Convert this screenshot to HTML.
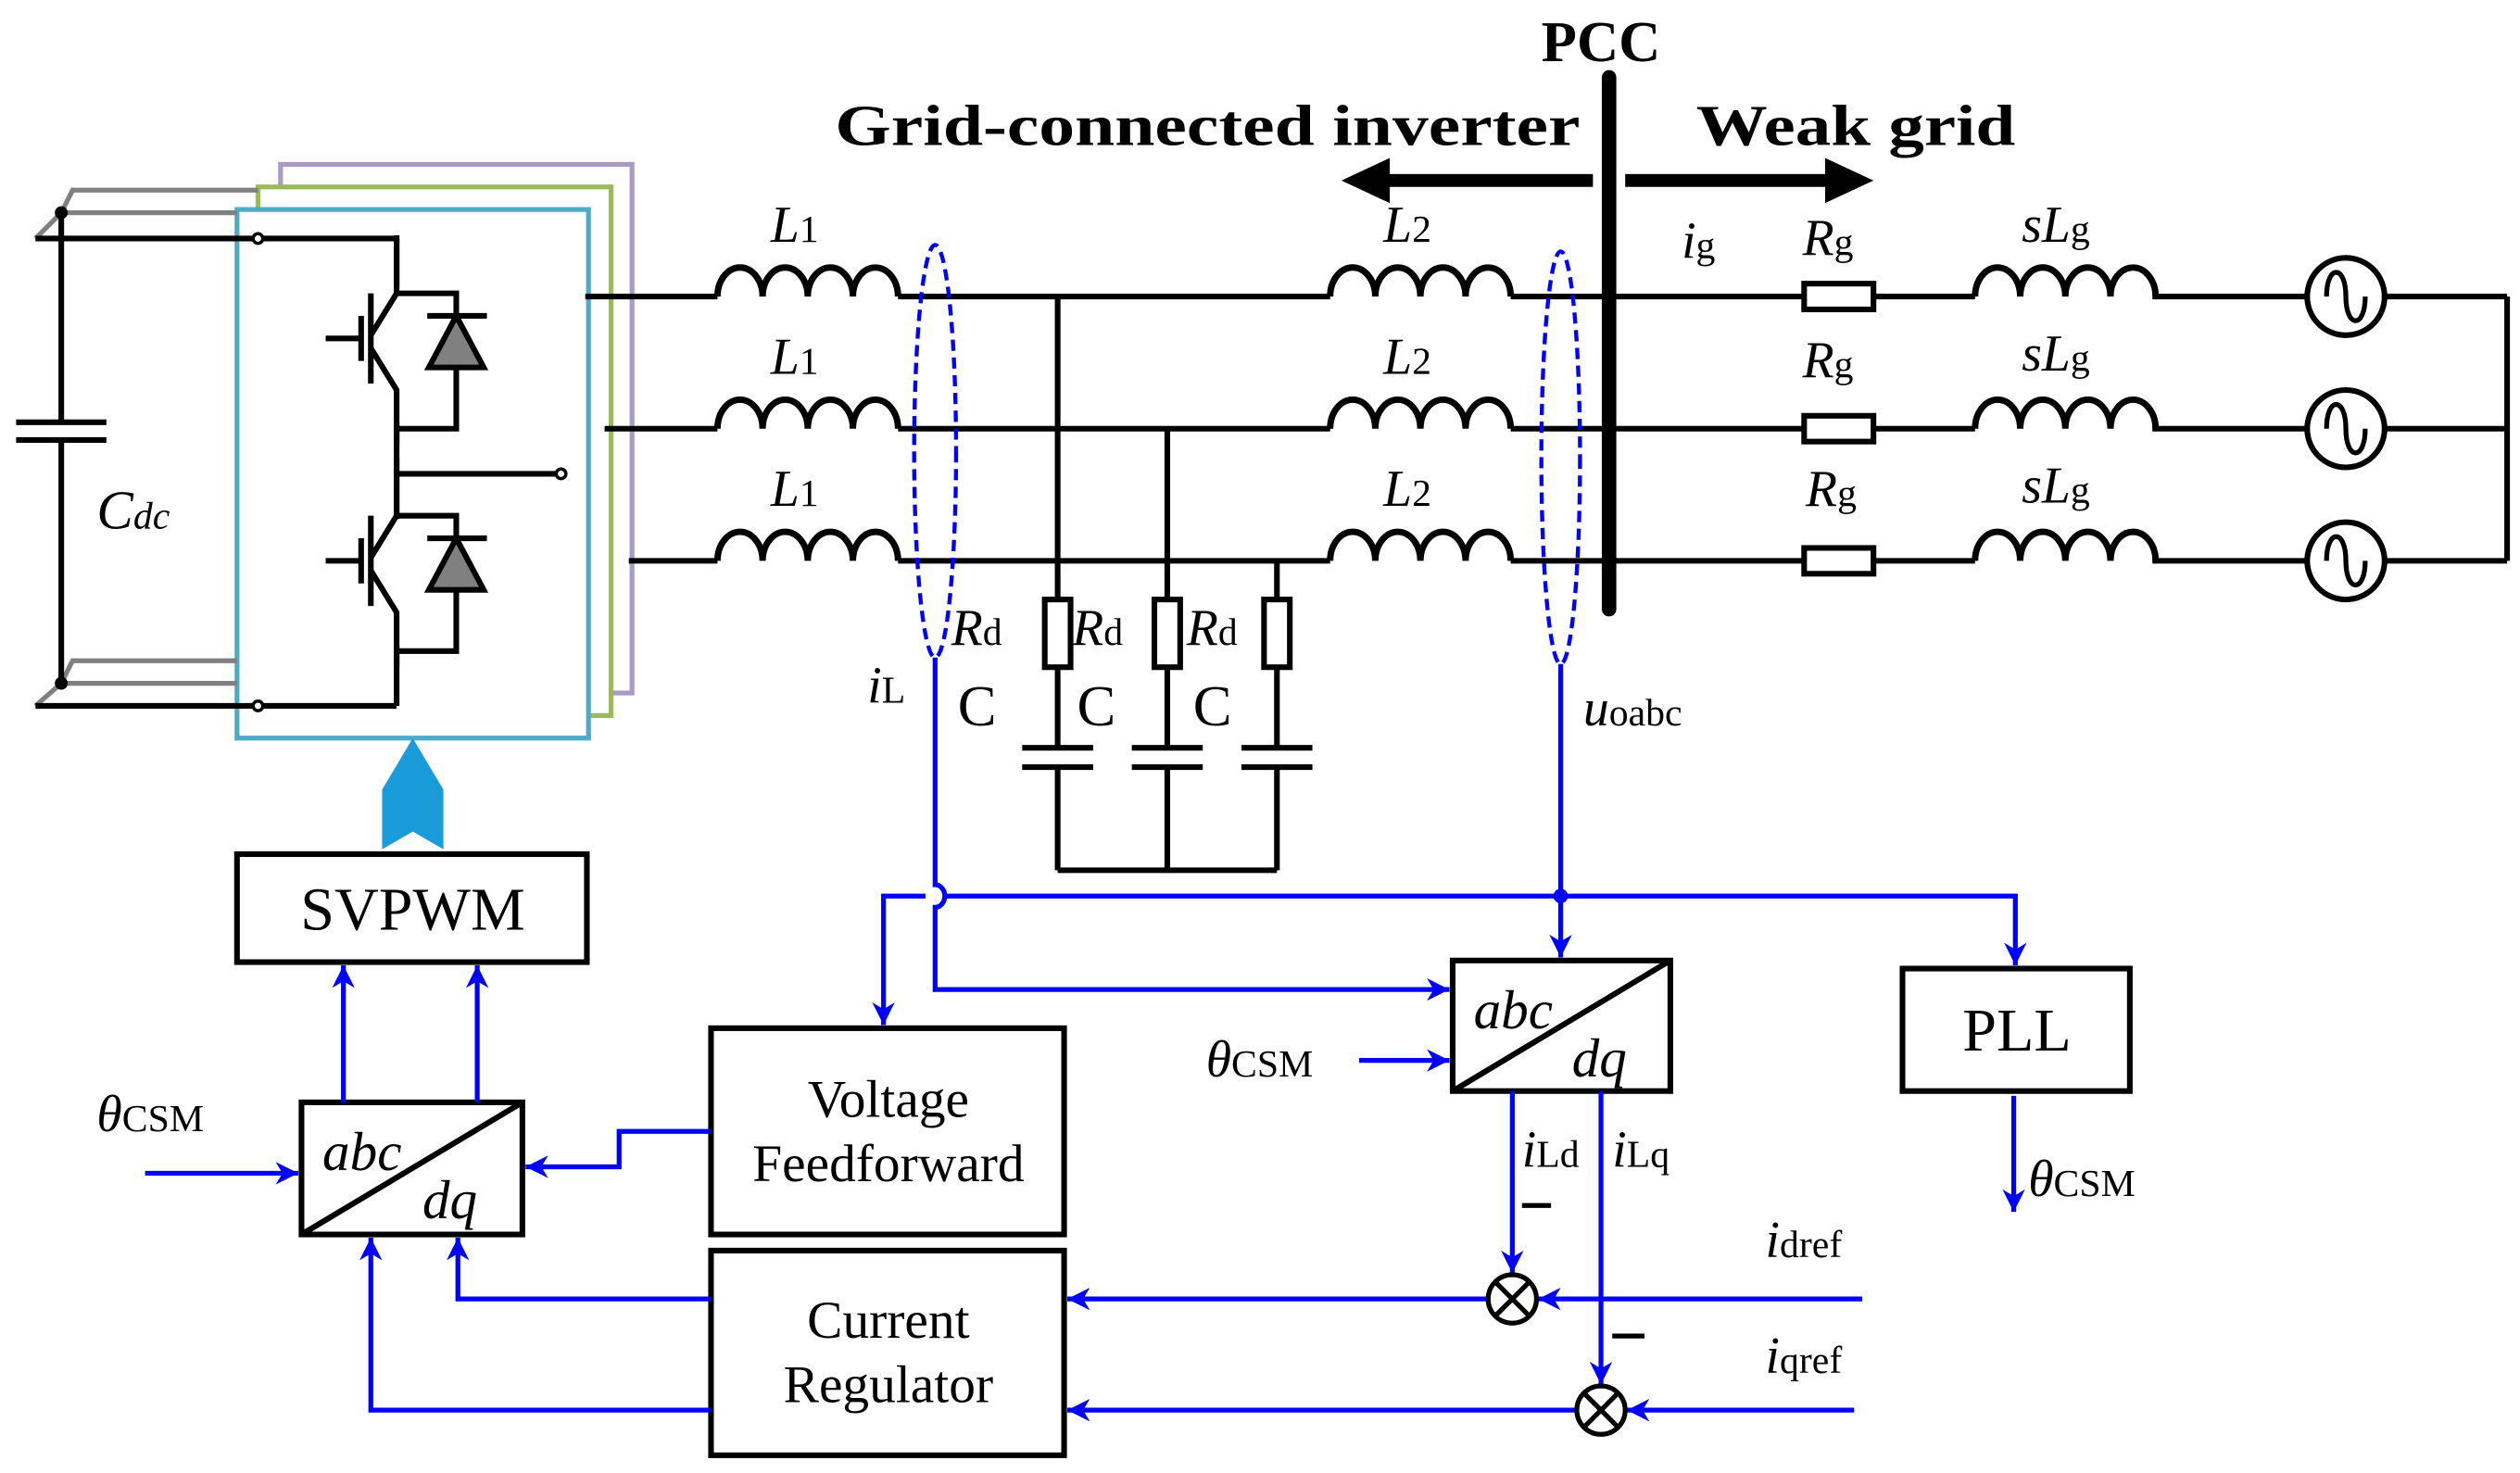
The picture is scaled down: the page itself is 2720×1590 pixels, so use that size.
<!DOCTYPE html>
<html><head><meta charset="utf-8"><style>
html,body{margin:0;padding:0;background:#fff}
svg{display:block}
text{font-family:"Liberation Serif",serif;fill:#000}
.it{font-style:italic}
</style></head><body>
<svg width="2720" height="1590" viewBox="0 0 1563 914" preserveAspectRatio="none" xmlns="http://www.w3.org/2000/svg">
<defs>
<marker id="ab" viewBox="0 0 10 10" refX="10" refY="5" markerWidth="14" markerHeight="14" orient="auto" markerUnits="userSpaceOnUse">
<path d="M0,0 L10,5 L0,10 L3,5 z" fill="#0000ff"/></marker>
<path id="ind" d="M0 0 a14 18 0 0 1 28 0 a14 18 0 0 1 28 0 a14 18 0 0 1 28 0 a14 18 0 0 1 28 0" fill="none" stroke="#000" stroke-width="4"/>
<g id="acs"><circle cx="0" cy="0" r="24" fill="#fff" stroke="#000" stroke-width="3.5"/><path d="M-12 0 C-12 -20 0 -20 0 0 C0 20 12 20 12 0" fill="none" stroke="#000" stroke-width="3"/></g>
<g id="igbt" fill="none" stroke="#000" stroke-width="3.5">
<path d="M246 0 V36 L230 62 M230 36 V92 M202 64 H224 M224 50 V78 M230 70 L246 96 V130"/>
<path d="M246 36 H283 V120 H246"/>
<path d="M265 50 H302"/>
<path d="M283 50 L266 82 H300 Z" fill="#808080"/>
</g>
</defs>

<!-- inverter stack -->
<rect x="174" y="102" width="218" height="328" fill="none" stroke="#a99bc5" stroke-width="3"/>
<rect x="160" y="116" width="219" height="328" fill="#fff" stroke="#9bbb59" stroke-width="3"/>
<rect x="147" y="130" width="218" height="328" fill="#fff" stroke="#4bacc6" stroke-width="3"/>
<g stroke="#808080" stroke-width="3" fill="none">
<path d="M22 148 L38 132 H147 M38 132 L45 118 H160"/>
<path d="M22 438 L38 424 H147 M38 424 L45 410 H147"/>
</g>
<g stroke="#000" stroke-width="3.5" fill="none">
<path d="M38 132 V262 M38 274 V424"/>
<path d="M10 262 H66 M10 273 H66"/>
<path d="M22 148 H246 M22 438 H246"/>
<path d="M246 148 V178 M246 262 V322 M246 400 V438"/>
<path d="M246 294 H348"/>
</g>
<circle cx="38" cy="132" r="4" fill="#000"/><circle cx="38" cy="424" r="4" fill="#000"/>
<circle cx="160" cy="148" r="3" fill="#fff" stroke="#000" stroke-width="2"/>
<circle cx="160" cy="438" r="3" fill="#fff" stroke="#000" stroke-width="2"/>
<circle cx="348" cy="294" r="3" fill="#fff" stroke="#000" stroke-width="2"/>
<use href="#igbt" transform="translate(0,146)"/>
<use href="#igbt" transform="translate(0,284)"/>
<text x="60" y="328" font-size="34" class="it">C<tspan font-size="24">dc</tspan></text>

<!-- power lines -->
<g stroke="#000" stroke-width="3.5" fill="none">
<path d="M363 184 H445 M557 184 H825 M937 184 H1118 M1162 184 H1225 M1335 184 H1431 M1479 184 H1555"/>
<path d="M375 266 H445 M557 266 H825 M937 266 H1118 M1162 266 H1225 M1335 266 H1431 M1479 266 H1555"/>
<path d="M390 348 H445 M557 348 H825 M937 348 H1118 M1162 348 H1225 M1335 348 H1431 M1479 348 H1555"/>
<path d="M1555 184 V348"/>
<path d="M656 184 V372 M656 414 V464 M656 476 V540 M724 266 V372 M724 414 V464 M724 476 V540 M792 348 V372 M792 414 V464 M792 476 V540 M656 540 H792"/>
<path d="M634 464 H678 M634 476 H678 M702 464 H746 M702 476 H746 M770 464 H814 M770 476 H814"/>
</g>
<g fill="#fff" stroke="#000" stroke-width="3.5">
<rect x="648" y="372" width="16" height="42"/><rect x="716" y="372" width="16" height="42"/><rect x="784" y="372" width="16" height="42"/>
<rect x="1119" y="176" width="43" height="16"/><rect x="1119" y="258" width="43" height="16"/><rect x="1119" y="340" width="43" height="16"/>
</g>
<use href="#ind" x="445" y="184"/><use href="#ind" x="445" y="266"/><use href="#ind" x="445" y="348"/>
<use href="#ind" x="825" y="184"/><use href="#ind" x="825" y="266"/><use href="#ind" x="825" y="348"/>
<use href="#ind" x="1225" y="184"/><use href="#ind" x="1225" y="266"/><use href="#ind" x="1225" y="348"/>
<use href="#acs" x="1455" y="184"/><use href="#acs" x="1455" y="266"/><use href="#acs" x="1455" y="348"/>
<line x1="998" y1="48" x2="998" y2="378" stroke="#000" stroke-width="9" stroke-linecap="round"/>
<ellipse cx="580" cy="280" rx="13" ry="128" fill="none" stroke="#0000ff" stroke-width="2.5" stroke-dasharray="7,4"/>
<ellipse cx="968" cy="284" rx="12" ry="128" fill="none" stroke="#0000ff" stroke-width="2.5" stroke-dasharray="7,4"/>

<!-- header -->
<text x="993" y="38" font-size="36" font-weight="bold" text-anchor="middle">PCC</text>
<text x="518" y="90" font-size="36" font-weight="bold" textLength="462" lengthAdjust="spacingAndGlyphs">Grid-connected inverter</text>
<text x="1052" y="90" font-size="36" font-weight="bold" textLength="198" lengthAdjust="spacingAndGlyphs">Weak grid</text>
<path d="M988 112 H860" stroke="#000" stroke-width="8"/><path d="M832 112 L862 98 V126 Z" fill="#000"/>
<path d="M1008 112 H1135" stroke="#000" stroke-width="8"/><path d="M1162 112 L1132 98 V126 Z" fill="#000"/>

<!-- power labels -->
<g font-size="32">
<text x="478" y="150" class="it">L<tspan font-size="24" font-style="normal">1</tspan></text>
<text x="478" y="232" class="it">L<tspan font-size="24" font-style="normal">1</tspan></text>
<text x="478" y="314" class="it">L<tspan font-size="24" font-style="normal">1</tspan></text>
<text x="858" y="150" class="it">L<tspan font-size="24" font-style="normal">2</tspan></text>
<text x="858" y="232" class="it">L<tspan font-size="24" font-style="normal">2</tspan></text>
<text x="858" y="314" class="it">L<tspan font-size="24" font-style="normal">2</tspan></text>
<text x="1043" y="160" class="it">i<tspan font-size="24" font-style="normal">g</tspan></text>
<text x="1118" y="158" class="it">R<tspan font-size="24" font-style="normal">g</tspan></text>
<text x="1118" y="234" class="it">R<tspan font-size="24" font-style="normal">g</tspan></text>
<text x="1120" y="314" class="it">R<tspan font-size="24" font-style="normal">g</tspan></text>
<text x="1254" y="150" class="it">sL<tspan font-size="24" font-style="normal">g</tspan></text>
<text x="1254" y="230" class="it">sL<tspan font-size="24" font-style="normal">g</tspan></text>
<text x="1254" y="312" class="it">sL<tspan font-size="24" font-style="normal">g</tspan></text>
<text x="590" y="400" class="it">R<tspan font-size="24" font-style="normal">d</tspan></text>
<text x="665" y="400" class="it">R<tspan font-size="24" font-style="normal">d</tspan></text>
<text x="736" y="400" class="it">R<tspan font-size="24" font-style="normal">d</tspan></text>
<text x="594" y="450" font-size="36">C</text><text x="668" y="450" font-size="36">C</text><text x="740" y="450" font-size="36">C</text>
<text x="538" y="436" class="it">i<tspan font-size="24" font-style="normal">L</tspan></text>
<text x="982" y="450" class="it">u<tspan font-size="24" font-style="normal">oabc</tspan></text>
</g>

<!-- control boxes -->
<g fill="#fff" stroke="#000" stroke-width="3.5">
<rect x="147" y="530" width="217" height="67"/>
<rect x="187" y="684" width="137" height="82"/>
<rect x="441" y="638" width="219" height="128"/>
<rect x="441" y="776" width="219" height="127"/>
<rect x="901" y="596" width="135" height="81"/>
<rect x="1180" y="601" width="141" height="76"/>
</g>
<line x1="187" y1="766" x2="324" y2="684" stroke="#000" stroke-width="3.5"/>
<line x1="901" y1="677" x2="1036" y2="596" stroke="#000" stroke-width="3.5"/>
<text x="256" y="577" font-size="38" text-anchor="middle">SVPWM</text>
<text x="1251" y="652" font-size="38" text-anchor="middle">PLL</text>
<text x="551" y="693" font-size="33" text-anchor="middle">Voltage</text>
<text x="551" y="733" font-size="33" text-anchor="middle">Feedforward</text>
<text x="551" y="830" font-size="33" text-anchor="middle">Current</text>
<text x="551" y="870" font-size="33" text-anchor="middle">Regulator</text>
<g font-size="34" class="it">
<text x="200" y="726">abc</text><text x="262" y="756">dq</text>
<text x="914" y="638">abc</text><text x="975" y="668">dq</text>
</g>
<path d="M237 527 V490 L256 458 L275 490 V527 L256 516 Z" fill="#1a9cdb"/>

<!-- blue control wiring -->
<g stroke="#0000ff" stroke-width="3" fill="none">
<path d="M580 408 V549 A6 7 0 0 1 580 563 V614 H899" marker-end="url(#ab)"/>
<path d="M574 556 H548 V636" marker-end="url(#ab)"/>
<path d="M586 556 H1250 V599" marker-end="url(#ab)"/>
<path d="M968 412 V594" marker-end="url(#ab)"/>
<path d="M843 658 H899" marker-end="url(#ab)"/>
<path d="M938 677 V790" marker-end="url(#ab)"/>
<path d="M993 677 V859" marker-end="url(#ab)"/>
<path d="M1155 806 H954" marker-end="url(#ab)"/>
<path d="M1150 875 H1009" marker-end="url(#ab)"/>
<path d="M923 806 H662" marker-end="url(#ab)"/>
<path d="M978 875 H662" marker-end="url(#ab)"/>
<path d="M441 806 H284 V768" marker-end="url(#ab)"/>
<path d="M441 875 H230 V768" marker-end="url(#ab)"/>
<path d="M441 702 H384 V724 H326" marker-end="url(#ab)"/>
<path d="M90 728 H185" marker-end="url(#ab)"/>
<path d="M213 684 V599" marker-end="url(#ab)"/>
<path d="M296 684 V599" marker-end="url(#ab)"/>
<path d="M1249 680 V752" marker-end="url(#ab)"/>
</g>
<circle cx="968" cy="556" r="4.5" fill="#0000ff"/>
<g fill="#fff" stroke="#000" stroke-width="3">
<circle cx="938" cy="806" r="15"/><circle cx="993" cy="875" r="15"/>
</g>
<g stroke="#000" stroke-width="3">
<path d="M927 795 L949 817 M949 795 L927 817"/>
<path d="M982 864 L1004 886 M1004 864 L982 886"/>
<path d="M944 748 H962 M1000 829 H1020"/>
</g>
<g font-size="32">
<text x="60" y="702" class="it">θ<tspan font-size="24" font-style="normal">CSM</tspan></text>
<text x="748" y="668" class="it">θ<tspan font-size="24" font-style="normal">CSM</tspan></text>
<text x="1258" y="742" class="it">θ<tspan font-size="24" font-style="normal">CSM</tspan></text>
<text x="944" y="724" class="it">i<tspan font-size="24" font-style="normal">Ld</tspan></text>
<text x="1000" y="724" class="it">i<tspan font-size="24" font-style="normal">Lq</tspan></text>
<text x="1095" y="780" class="it">i<tspan font-size="24" font-style="normal">dref</tspan></text>
<text x="1095" y="852" class="it">i<tspan font-size="24" font-style="normal">qref</tspan></text>
</g>
</svg>
</body></html>
